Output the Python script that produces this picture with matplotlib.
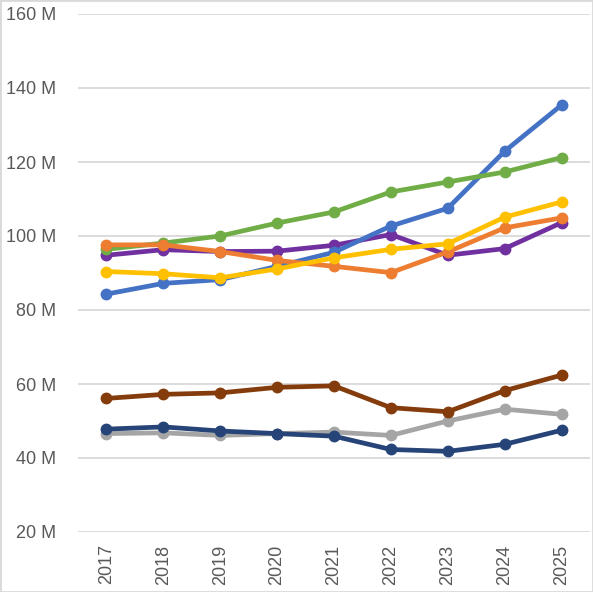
import matplotlib.pyplot as plt
from matplotlib.patches import Rectangle

years = ['2017', '2018', '2019', '2020', '2021', '2022', '2023', '2024', '2025']

# values in millions
purple = [94.8, 96.3, 95.8, 95.9, 97.5, 100.4, 94.8, 96.6, 103.6]
blue = [84.3, 87.2, 88.2, 91.8, 95.6, 102.7, 107.5, 122.9, 135.4]
green = [96.4, 98.1, 100.0, 103.5, 106.5, 111.9, 114.6, 117.3, 121.2]
grey = [46.6, 46.8, 46.1, 46.6, 47.0, 46.1, 50.0, 53.2, 51.8]
orange = [97.6, 97.6, 95.8, 93.4, 91.8, 90.1, 95.7, 102.2, 104.9]
yellow = [90.4, 89.8, 88.7, 91.1, 94.1, 96.4, 97.9, 105.1, 109.2]
brown = [56.1, 57.2, 57.6, 59.1, 59.5, 53.6, 52.5, 58.2, 62.4]
navy = [47.8, 48.4, 47.3, 46.6, 45.9, 42.3, 41.8, 43.7, 47.5]

series = [
    (purple, '#7030A0'),
    (blue, '#4472C4'),
    (green, '#70AD47'),
    (grey, '#A5A5A5'),
    (orange, '#ED7D31'),
    (yellow, '#FFC000'),
    (brown, '#843C0C'),
    (navy, '#264478'),
]

plt.rcParams['font.family'] = ['Liberation Sans', 'DejaVu Sans']

fig = plt.figure(figsize=(5.93, 5.92), dpi=100)
ax = fig.add_axes([78 / 593, 1 - 532 / 592, 512 / 593, 518 / 592])

x = list(range(len(years)))
for vals, col in series:
    ax.plot(x, vals, color=col, lw=3.4, marker='o', ms=7.5, solid_capstyle='round')

ax.set_xlim(-0.5, len(years) - 0.5)
ax.set_ylim(20, 160)
ax.set_yticks(range(20, 161, 20))
ax.set_yticklabels([f'{v} M' for v in range(20, 161, 20)])
ax.set_xticks(x)
ax.set_xticklabels(years, rotation=90)
ax.grid(axis='y', color='#D9D9D9', lw=1.3)
ax.set_axisbelow(True)
for s in ax.spines.values():
    s.set_visible(False)
ax.tick_params(length=0, labelsize=13, colors='#595959', pad=16)
ax.tick_params(axis='x', pad=9)
for lab in ax.get_yticklabels():
    lab.set_horizontalalignment('right')

fig.patches.append(Rectangle((0, 0), 1, 1, transform=fig.transFigure,
                             fill=False, edgecolor='#D9D9D9', lw=2))

fig.savefig('out.png', dpi=100)
